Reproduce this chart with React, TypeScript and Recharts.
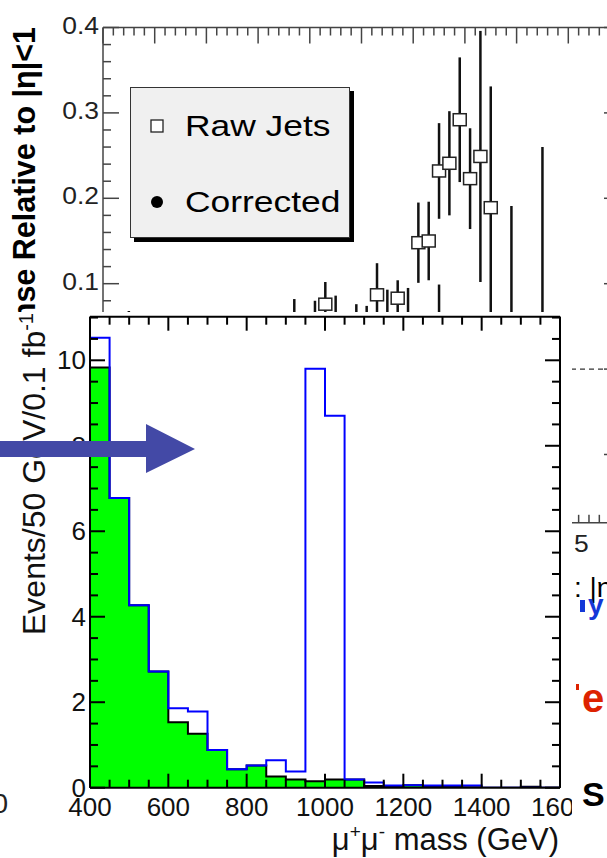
import React from 'react';
import { ComposedChart, Scatter, ErrorBar, XAxis, YAxis, Area, Line, ReferenceLine, Legend } from 'recharts';

const FONT = "'Liberation Sans', Arial, Helvetica, sans-serif";

// ---------- Front histogram: mu+mu- mass, 50 GeV bins ----------
const massBinLowEdges = [400, 450, 500, 550, 600, 650, 700, 750, 800, 850, 900, 950, 1000, 1050, 1100, 1150, 1200, 1250, 1300, 1350, 1400, 1450, 1500, 1550];
const massUpperEdge = 1600;
const backgroundEvents = [9.83, 6.78, 4.27, 2.72, 1.53, 1.26, 0.88, 0.43, 0.52, 0.26, 0.19, 0.15, 0.19, 0.19, 0.04, 0.02, 0.06, 0.02, 0.02, 0.01, 0, 0, 0.02, 0];
const signalPlusBackgroundEvents = [10.53, 6.78, 4.27, 2.72, 1.86, 1.78, 0.88, 0.43, 0.52, 0.64, 0.38, 9.8, 8.7, 0.19, 0.12, 0.05, 0.06, 0.05, 0.05, 0.05, 0, 0, 0, 0];
const massTickValues = [400, 450, 500, 550, 600, 650, 700, 750, 800, 850, 900, 950, 1000, 1050, 1100, 1150, 1200, 1250, 1300, 1350, 1400, 1450, 1500, 1550, 1600];
const massLabelValues = [400, 600, 800, 1000, 1200, 1400, 1600];
const massTickLabels = ['400', '600', '800', '1000', '1200', '1400', '1600'];
const eventsTickValues = [0, 0.5, 1, 1.5, 2, 2.5, 3, 3.5, 4, 4.5, 5, 5.5, 6, 6.5, 7, 7.5, 8, 8.5, 9, 9.5, 10, 10.5, 11];
const eventsLabelValues = [0, 2, 4, 6, 8, 10];
const eventsTickLabels = ['0', '2', '4', '6', '8', '10'];

// ---------- Back plot: response relative to |eta|<1 ----------
const seriesNames = ['Raw Jets', 'Corrected'];
const rawEta = [2.15, 2.65, 2.85, 3.05, 3.15, 3.25, 3.35, 3.45, 3.55, 3.65, 3.75];
const rawResponse = [0.076, 0.087, 0.083, 0.148, 0.15, 0.232, 0.241, 0.292, 0.223, 0.249, 0.189];
const rawError = [0.026, 0.037, 0.021, 0.047, 0.046, 0.056, 0.061, 0.073, 0.059, 0.147, 0.142];
const corEta = [0.25, 1.85, 2.05, 2.25, 2.45, 2.55, 2.75, 2.95, 3.25, 3.95, 4.25];
const corResponse = [0, 0, 0, 0, 0, 0, 0, 0, 0, 0, 0];
const corError = [0.068, 0.082, 0.08, 0.086, 0.076, 0.074, 0.093, 0.095, 0.099, 0.191, 0.26];
const responseLabelValues = [-0.1, 0, 0.1, 0.2, 0.3, 0.4];
const responseTickLabels = ['-0.1', '0', '0.1', '0.2', '0.3', '0.4'];
const etaLabelValues = [0, 0.5, 1, 1.5, 2, 2.5, 3, 3.5, 4, 4.5, 5];
const etaTickLabels = ['0', '0.5', '1', '1.5', '2', '2.5', '3', '3.5', '4', '4.5', '5'];

const responseTickValues = Array.from({ length: 30 }, (_, i) => +(-0.18 + i * 0.02).toFixed(2));
const etaTickValues = Array.from({ length: 51 }, (_, i) => +(i * 0.1).toFixed(1));

const histRows = [...massBinLowEdges, massUpperEdge].map((m, i) => {
  const k = Math.min(i, massBinLowEdges.length - 1);
  return { mass: m, background: backgroundEvents[k], total: signalPlusBackgroundEvents[k] };
});
const rawRows = rawEta.map((eta, i) => ({ eta, response: rawResponse[i], err: rawError[i] }));
const corRows = corEta.map((eta, i) => ({ eta, response: corResponse[i], err: corError[i] }));

const findLabel = (v: number, vals: number[], labels: string[]) => {
  const i = vals.findIndex((m) => Math.abs(m - v) < 1e-6);
  return i >= 0 ? labels[i] : null;
};

// ---------- Back chart geometry ----------
const T_W = 640, T_H = 560;
const T_PL = 103, T_PT = 27.5, T_PR = 620, T_PB = 522.8;
const TC = '#444';

const TopLeftTick = (p: any) => {
  const v = p.payload.value;
  const label = findLabel(v, responseLabelValues, responseTickLabels);
  const y = p.y;
  return (
    <g>
      <line x1={T_PL} x2={T_PL + (label ? 16 : 8)} y1={y} y2={y} stroke={TC} strokeWidth={1.5} />
      {label && (
        <text transform={`translate(${T_PL - 4},${y + 6}) scale(1.15,1)`} textAnchor="end" fontSize={23} fill="#222" fontFamily={FONT}>{label}</text>
      )}
    </g>
  );
};
const TopRightTick = (p: any) => {
  const v = p.payload.value;
  const label = findLabel(v, responseLabelValues, responseTickLabels);
  return <line x1={T_PR} x2={T_PR - (label ? 16 : 8)} y1={p.y} y2={p.y} stroke={TC} strokeWidth={1.5} />;
};
const TopTopTick = (p: any) => {
  const v = p.payload.value;
  const major = findLabel(v, etaLabelValues, etaTickLabels) !== null;
  return <line x1={p.x} x2={p.x} y1={T_PT} y2={T_PT + (major ? 16 : 8)} stroke={TC} strokeWidth={1.5} />;
};
const TopBottomTick = (p: any) => {
  const v = p.payload.value;
  const label = findLabel(v, etaLabelValues, etaTickLabels);
  return (
    <g>
      <line x1={p.x} x2={p.x} y1={T_PB} y2={T_PB - (label ? 16 : 8)} stroke={TC} strokeWidth={1.5} />
      {label && (
        <text transform={`translate(${p.x + 2},${T_PB + 29}) scale(1.15,1)`} textAnchor="middle" fontSize={23} fill="#222" fontFamily={FONT}>{label}</text>
      )}
    </g>
  );
};

const RawMarker = (p: any) => (
  <rect x={p.cx - 6.5} y={p.cy - 6} width={13} height={12} fill="#fff" stroke="#222" strokeWidth={1.5} />
);
const CorMarker = (p: any) => <circle cx={p.cx} cy={p.cy} r={6} fill="#000" />;

const LegendBox = (props: any) => {
  const items = [...(props.payload || [])].sort(
    (a: any, b: any) => seriesNames.indexOf(a.value) - seriesNames.indexOf(b.value)
  );
  return (
    <svg width={226} height={157} style={{ display: 'block' }}>
      <rect x={4} y={4} width={220} height={151} fill="#000" />
      <rect x={0.5} y={0.5} width={219} height={150} fill="#f0f0f0" stroke="#333" strokeWidth={1} />
      {items.map((e: any, i: number) => {
        const cy = 39 + i * 76;
        return (
          <g key={i}>
            {e.type === 'square' ? (
              <rect x={21} y={cy - 6} width={12} height={12} fill="#fff" stroke="#222" strokeWidth={1.3} />
            ) : (
              <circle cx={27} cy={cy} r={6} fill="#000" />
            )}
            <text transform={`translate(55,${cy + 10})  scale(1.18,1)`} fontSize={30} fill="#000" fontFamily={FONT}>
              {e.value}
            </text>
          </g>
        );
      })}
    </svg>
  );
};

const TopYTitle = () => (
  <text transform={`translate(35,27) rotate(-90)`} textAnchor="end" fontSize={30.5} fontWeight="bold" fill="#000" fontFamily={FONT}>
    Response Relative to |η|&lt;1
  </text>
);

// ---------- Front chart geometry (panel coords) ----------
const P_LEFT = 8, P_TOP = 312, P_W = 564, P_H = 546;
const F_PL = 82, F_PT = 4.7, F_PR = 552, F_PB = 475.7;

const FrontBottomTick = (p: any) => {
  const v = p.payload.value;
  const label = findLabel(v, massLabelValues, massTickLabels);
  return (
    <g>
      <line x1={p.x} x2={p.x} y1={F_PB} y2={F_PB - (label ? 14 : 8)} stroke="#000" strokeWidth={2} />
      {label && (
        <text x={p.x} y={F_PB + 28} textAnchor="middle" fontSize={26} fill="#111" fontFamily={FONT}>{label}</text>
      )}
    </g>
  );
};
const FrontTopTick = (p: any) => {
  const v = p.payload.value;
  const major = findLabel(v, massLabelValues, massTickLabels) !== null;
  return <line x1={p.x} x2={p.x} y1={F_PT} y2={F_PT + (major ? 14 : 8)} stroke="#000" strokeWidth={2} />;
};
const FrontLeftTick = (p: any) => {
  const v = p.payload.value;
  const label = findLabel(v, eventsLabelValues, eventsTickLabels);
  return (
    <g>
      <line x1={F_PL} x2={F_PL + (label ? 15 : 8)} y1={p.y} y2={p.y} stroke="#000" strokeWidth={2} />
      {label && (
        <text x={F_PL - 4} y={p.y + 9} textAnchor="end" fontSize={26} fill="#111" fontFamily={FONT}>{label}</text>
      )}
    </g>
  );
};
const FrontRightTick = (p: any) => {
  const v = p.payload.value;
  const major = findLabel(v, eventsLabelValues, eventsTickLabels) !== null;
  return <line x1={F_PR} x2={F_PR - (major ? 15 : 8)} y1={p.y} y2={p.y} stroke="#000" strokeWidth={2} />;
};

const FrontXTitle = () => (
  <text x={551} y={538} textAnchor="end" fontSize={31} fill="#111" fontFamily={FONT}>
    <tspan>μ</tspan>
    <tspan dy={-12} fontSize={19}>+</tspan>
    <tspan dy={12}>μ</tspan>
    <tspan dy={-12} fontSize={19}>-</tspan>
    <tspan dy={12}> mass (GeV)</tspan>
  </text>
);
const FrontYTitle = () => (
  <text transform={`translate(37,1) rotate(-90)`} textAnchor="end" fontSize={32} fill="#111" fontFamily={FONT}>
    <tspan>Events/50 GeV/0.1 fb</tspan>
    <tspan dy={-12} fontSize={20}>-1</tspan>
  </text>
);

export default function App() {
  return (
    <div style={{ position: 'absolute', left: 0, top: 0, width: 607, height: 858, overflow: 'hidden', background: '#fff', fontFamily: FONT }}>
      {/* Back plot */}
      <div style={{ position: 'absolute', left: 0, top: 0 }}>
        <ComposedChart width={T_W} height={T_H} margin={{ top: 0, right: 0, bottom: 0, left: 0 }}>
          <ReferenceLine y={0} xAxisId="b" yAxisId="l" stroke="#333" strokeDasharray="5 4" strokeWidth={1.2} />
          <Scatter name={seriesNames[0]} legendType="square" data={rawRows} dataKey="response" xAxisId="b" yAxisId="l" isAnimationActive={false} shape={RawMarker}>
            <ErrorBar dataKey="err" direction="y" width={0} stroke="#111" strokeWidth={2.5} isAnimationActive={false} />
          </Scatter>
          <Scatter name={seriesNames[1]} legendType="circle" data={corRows} dataKey="response" xAxisId="b" yAxisId="l" isAnimationActive={false} shape={CorMarker}>
            <ErrorBar dataKey="err" direction="y" width={0} stroke="#111" strokeWidth={2.5} isAnimationActive={false} />
          </Scatter>
          <XAxis xAxisId="b" type="number" dataKey="eta" domain={[0, 5]} ticks={etaTickValues} interval={0} allowDataOverflow height={T_H - T_PB} tickLine={false} axisLine={{ stroke: TC, strokeWidth: 1.5 }} tick={(p: any) => <TopBottomTick {...p} />} />
          <XAxis xAxisId="t" orientation="top" type="number" dataKey="eta" domain={[0, 5]} ticks={etaTickValues} interval={0} allowDataOverflow height={T_PT} tickLine={false} axisLine={{ stroke: TC, strokeWidth: 1.5 }} tick={(p: any) => <TopTopTick {...p} />} />
          <YAxis yAxisId="l" type="number" domain={[-0.18, 0.4]} ticks={responseTickValues} interval={0} allowDataOverflow width={T_PL} tickLine={false} axisLine={{ stroke: TC, strokeWidth: 1.5 }} tick={(p: any) => <TopLeftTick {...p} />} label={<TopYTitle />} />
          <YAxis yAxisId="r" orientation="right" type="number" domain={[-0.18, 0.4]} ticks={responseTickValues} interval={0} allowDataOverflow width={T_W - T_PR} tickLine={false} axisLine={{ stroke: TC, strokeWidth: 1.5 }} tick={(p: any) => <TopRightTick {...p} />} />
          <Legend layout="vertical" align="center" verticalAlign="middle" wrapperStyle={{ left: 130, top: 87, width: 226, height: 157 }} content={(p: any) => <LegendBox {...p} />} />
        </ComposedChart>
      </div>

      {/* fragments of underlying slides */}
      <svg width={607} height={858} style={{ position: 'absolute', left: 0, top: 0 }}>
        <text x={8} y={813} textAnchor="end" fontSize={28} fill="#222" fontFamily={FONT}>0</text>
        <text x={574} y={597} fontSize={28} fill="#000" fontFamily={FONT}>: |η</text>
        <rect x={580} y={600} width={5} height={12} fill="#1438d8" />
        <text x={588} y={614} fontSize={28} fontWeight="bold" fill="#1438d8" fontFamily={FONT}>y</text>
        <rect x={576} y={684} width={3} height={6} fill="#dd2200" />
        <text x={582} y={712} fontSize={40} fontWeight="bold" fill="#dd2200" fontFamily={FONT}>e</text>
        <text x={582} y={806} fontSize={34} fontWeight="bold" fill="#000" fontFamily={FONT}>S</text>
      </svg>

      {/* Front histogram panel */}
      <div style={{ position: 'absolute', left: P_LEFT, top: P_TOP, width: P_W, height: P_H, background: '#fff', overflow: 'hidden' }}>
        <ComposedChart width={P_W} height={P_H} data={histRows} margin={{ top: 0, right: 0, bottom: 0, left: 0 }}>
          <Area xAxisId="b" yAxisId="l" type="stepAfter" dataKey="background" fill="#00ff00" fillOpacity={1} stroke="#000" strokeWidth={2} dot={false} activeDot={false} isAnimationActive={false} />
          <Line xAxisId="b" yAxisId="l" type="stepAfter" dataKey="total" stroke="#0000ff" strokeWidth={2} dot={false} activeDot={false} isAnimationActive={false} />
          <XAxis xAxisId="b" type="number" dataKey="mass" domain={[400, 1600]} ticks={massTickValues} interval={0} allowDataOverflow height={P_H - F_PB} tickLine={false} axisLine={{ stroke: '#000', strokeWidth: 2 }} tick={(p: any) => <FrontBottomTick {...p} />} label={<FrontXTitle />} />
          <XAxis xAxisId="t" orientation="top" type="number" dataKey="mass" domain={[400, 1600]} ticks={massTickValues} interval={0} allowDataOverflow height={F_PT} tickLine={false} axisLine={{ stroke: '#000', strokeWidth: 2 }} tick={(p: any) => <FrontTopTick {...p} />} />
          <YAxis yAxisId="l" type="number" domain={[0, 11.02]} ticks={eventsTickValues} interval={0} allowDataOverflow width={F_PL} tickLine={false} axisLine={{ stroke: '#000', strokeWidth: 2 }} tick={(p: any) => <FrontLeftTick {...p} />} label={<FrontYTitle />} />
          <YAxis yAxisId="r" orientation="right" type="number" domain={[0, 11.02]} ticks={eventsTickValues} interval={0} allowDataOverflow width={P_W - F_PR} tickLine={false} axisLine={{ stroke: '#000', strokeWidth: 2 }} tick={(p: any) => <FrontRightTick {...p} />} />
        </ComposedChart>
      </div>

      {/* Arrow overlay */}
      <svg width={607} height={858} style={{ position: 'absolute', left: 0, top: 0, pointerEvents: 'none' }}>
        <polygon points="0,441 146,441 146,424 195,449 146,473 146,457 0,457" fill="#4349a6" />
      </svg>
    </div>
  );
}
